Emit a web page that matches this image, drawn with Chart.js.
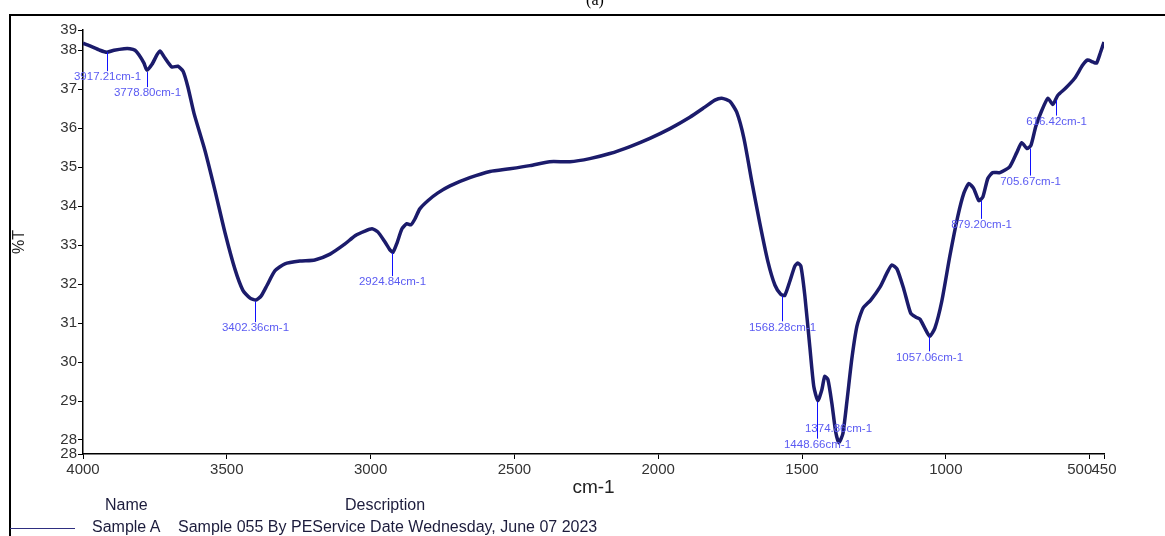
<!DOCTYPE html>
<html>
<head>
<meta charset="utf-8">
<script src="https://cdn.jsdelivr.net/npm/chart.js@4.4.1/dist/chart.umd.min.js"></script>
<style>
  html, body { margin: 0; padding: 0; background: #fff; }
  #wrap { position: relative; width: 1165px; height: 536px; overflow: hidden; font-family: Arial, "Liberation Sans", sans-serif; }
  #ir-chart { position: absolute; left: 0; top: 0; }
  #frame { position: absolute; left: 9px; top: 14px; width: 1200px; height: 600px; border-top: 2px solid #000; border-left: 2px solid #000; }
  #fig { position: absolute; left: 595px; top: -9px; transform: translateX(-50%); font: 16px "Liberation Serif", "Times New Roman", serif; color: #000; }
  .lg { position: absolute; font-size: 16px; color: #1c1c3c; white-space: nowrap; line-height: 1; }
  #lg-line { position: absolute; left: 10px; top: 528px; width: 65px; height: 0; border-top: 1.5px solid #2e2e80; }
</style>
</head>
<body>
<div id="wrap">
  <canvas id="ir-chart" width="1165" height="536"></canvas>
  <div id="frame"></div>
  <div id="fig">(a)</div>
  <div class="lg" style="left:105px; top:497px;">Name</div>
  <div class="lg" style="left:345px; top:497px;">Description</div>
  <div id="lg-line"></div>
  <div class="lg" style="left:92px; top:519px;">Sample A</div>
  <div class="lg" style="left:178px; top:519px;">Sample 055 By PEService Date Wednesday, June 07 2023</div>
</div>
<script>
// FT-IR spectrum, Sample A
const wavenumbers = [
  4000, 3976, 3941, 3917, 3892, 3857, 3837, 3819, 3805, 3788,
  3778, 3760, 3743, 3732, 3715, 3691, 3670, 3652, 3635, 3614,
  3576, 3541, 3506, 3472, 3444, 3419, 3399, 3381, 3360, 3333,
  3298, 3246, 3194, 3141, 3089, 3054, 3020, 2995, 2975, 2950,
  2933, 2922, 2908, 2891, 2874, 2860, 2846, 2829, 2801, 2766,
  2724, 2655, 2585, 2516, 2446, 2377, 2307, 2238, 2168, 2098,
  2029, 1959, 1890, 1838, 1803, 1779, 1751, 1727, 1702, 1675,
  1647, 1619, 1594, 1574, 1560, 1542, 1525, 1515, 1504, 1490,
  1473, 1459, 1445, 1431, 1421, 1410, 1396, 1383, 1372, 1358,
  1344, 1327, 1309, 1288, 1261, 1229, 1205, 1188, 1170, 1146,
  1122, 1104, 1090, 1073, 1056, 1038, 1014, 986, 958, 937,
  920, 903, 885, 871, 854, 837, 812, 778, 753, 736,
  718, 704, 687, 666, 645, 628, 611, 583, 552, 524,
  507, 489, 476, 462, 450
];
const transmittance = [
  38.18, 38.11, 38.00, 37.95, 38.00, 38.04, 38.04, 38.00, 37.88, 37.67,
  37.49, 37.64, 37.88, 37.98, 37.80, 37.57, 37.59, 37.46, 37.05, 36.38,
  35.43, 34.40, 33.31, 32.39, 31.84, 31.64, 31.59, 31.69, 31.97, 32.34,
  32.52, 32.59, 32.62, 32.77, 33.03, 33.24, 33.36, 33.42, 33.34, 33.08,
  32.88, 32.82, 33.06, 33.42, 33.55, 33.52, 33.67, 33.93, 34.14, 34.34,
  34.52, 34.73, 34.89, 34.96, 35.04, 35.14, 35.14, 35.22, 35.35, 35.53,
  35.74, 35.99, 36.28, 36.54, 36.72, 36.77, 36.69, 36.41, 35.74, 34.65,
  33.57, 32.59, 31.97, 31.74, 31.71, 32.08, 32.46, 32.54, 32.46, 31.69,
  30.40, 29.37, 29.01, 29.29, 29.63, 29.55, 28.93, 28.21, 27.93, 28.16,
  28.98, 30.07, 30.92, 31.38, 31.59, 31.92, 32.28, 32.49, 32.39, 31.87,
  31.25, 31.15, 31.10, 30.87, 30.66, 30.87, 31.56, 32.72, 33.75, 34.34,
  34.58, 34.45, 34.14, 34.24, 34.71, 34.86, 34.86, 35.01, 35.38, 35.63,
  35.48, 35.56, 36.05, 36.46, 36.77, 36.61, 36.84, 37.03, 37.28, 37.62,
  37.75, 37.70, 37.67, 37.95, 38.21
];

// axis ticks
const xTicks = [4000, 3500, 3000, 2500, 2000, 1500, 1000, 500, 450];
const yMin = 27.64, yMax = 38.52;
const yTicks = [yMin, 28, 29, 30, 31, 32, 33, 34, 35, 36, 37, 38, yMax];

// peak markers: wavenumber, %T at the curve, %T of the label
const peakLabels = ['3917.21cm-1', '3778.80cm-1', '3402.36cm-1', '2924.84cm-1', '1568.28cm-1',
                    '1448.66cm-1', '1374.86cm-1', '1057.06cm-1', '879.20cm-1', '705.67cm-1', '616.42cm-1'];
const peakWn    = [3917.21, 3778.80, 3402.36, 2924.84, 1568.28, 1448.66, 1374.86, 1057.06, 879.20, 705.67, 616.42];
const peakTip   = [37.95, 37.44, 31.56, 32.80, 31.69, 28.98, 27.93, 30.66, 34.14, 35.48, 36.72];
const peakText  = [37.31, 36.90, 30.87, 32.05, 30.89, 27.88, 28.29, 30.12, 33.52, 34.63, 36.17];

const peakPlugin = {
  id: 'peaks',
  afterDatasetsDraw(chart) {
    const { ctx, scales: { x, y } } = chart;
    ctx.save();
    ctx.font = '11.5px Arial, "Liberation Sans", sans-serif';
    ctx.textAlign = 'center';
    ctx.textBaseline = 'middle';
    peakWn.forEach((wn, i) => {
      const px = Math.round(x.getPixelForValue(wn)) + 0.5;
      const tipY = y.getPixelForValue(peakTip[i]);
      const txtY = y.getPixelForValue(peakText[i]);
      if (txtY > tipY) {
        ctx.strokeStyle = '#1010ff';
        ctx.lineWidth = 1;
        ctx.beginPath();
        ctx.moveTo(px, tipY);
        ctx.lineTo(px, txtY - 6);
        ctx.stroke();
      }
      ctx.fillStyle = '#5a5af2';
      ctx.fillText(peakLabels[i], px, txtY);
    });
    ctx.restore();
  }
};

const tickFont = { family: 'Arial, "Liberation Sans", sans-serif', size: 15 };

new Chart(document.getElementById('ir-chart'), {
  type: 'scatter',
  data: {
    datasets: [{
      label: 'Sample A',
      data: wavenumbers.map((w, i) => ({ x: w, y: transmittance[i] })),
      showLine: true,
      borderColor: '#1b1b6b',
      borderWidth: 3.5,
      pointRadius: 0,
      tension: 0.2
    }]
  },
  options: {
    responsive: false,
    animation: false,
    layout: { padding: { left: 0, top: 30, right: 61, bottom: 37 } },
    plugins: { legend: { display: false }, tooltip: { enabled: false } },
    scales: {
      x: {
        type: 'linear',
        reverse: true,
        min: 450,
        max: 4000,
        afterBuildTicks: (scale) => { scale.ticks = xTicks.map(v => ({ value: v })); },
        afterFit: (scale) => { scale.height = 45; },
        ticks: {
          autoSkip: false,
          maxRotation: 0,
          padding: 2,
          color: '#333',
          font: tickFont,
          callback: (val) => val === 500 ? '500\u2007\u2007\u2009' : String(val)
        },
        grid: { drawOnChartArea: false, drawTicks: true, tickLength: 5, color: '#000', lineWidth: 1 },
        border: { color: '#000', width: 1.5 },
        title: { display: true, text: 'cm-1', color: '#222', font: { family: 'Arial, "Liberation Sans", sans-serif', size: 19 }, padding: 0 }
      },
      y: {
        min: yMin,
        max: yMax,
        afterBuildTicks: (scale) => { scale.ticks = yTicks.map(v => ({ value: v })); },
        afterFit: (scale) => { scale.width = 83; },
        ticks: {
          autoSkip: false,
          padding: 1,
          color: '#333',
          font: tickFont,
          callback: (val) => String(Math.round(val))
        },
        grid: { drawOnChartArea: false, drawTicks: true, tickLength: 5, color: '#000', lineWidth: 1 },
        border: { color: '#000', width: 1.5 },
        title: { display: true, text: '%T', color: '#222', font: { family: 'Arial, "Liberation Sans", sans-serif', size: 16 }, padding: { top: 10, bottom: 0 } }
      }
    }
  },
  plugins: [peakPlugin]
});
</script>
</body>
</html>
